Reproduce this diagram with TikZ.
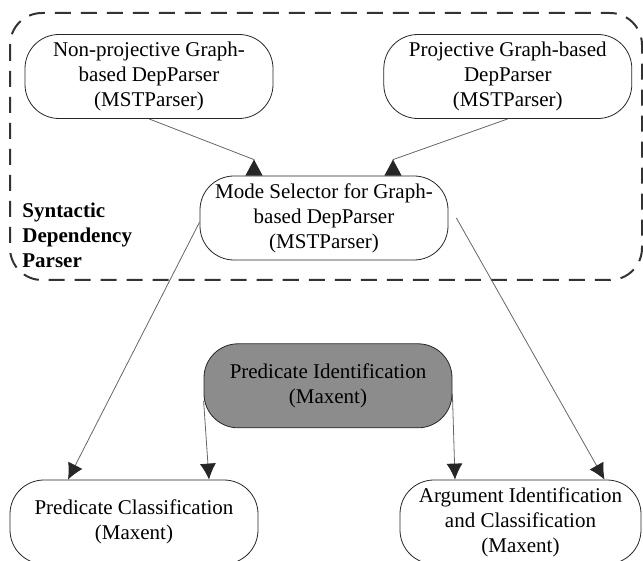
\documentclass[tikz,border=0pt]{standalone}
\usepackage{fontspec}
\setmainfont{Liberation Serif}
\usetikzlibrary{positioning,arrows.meta}

\begin{document}
\begin{tikzpicture}[
    x=0.5pt, y=-0.5pt,
    module/.style={rectangle, draw=black!85, rounded corners=17pt, minimum width=124pt, minimum height=42pt, align=center, inner sep=2pt, font=\fontsize{10.5}{12.5}\selectfont},
    shaded/.style={module, fill=black!45},
    group/.style={draw=black!80, line width=1pt, dash pattern=on 8pt off 5pt, rounded corners=16pt},
    arrow/.style={draw=black!60, -{Latex[length=8pt, width=8pt, color=black!85]}},
    uparrow/.style={draw=black!60, -{Triangle[reversed, length=8pt, width=8.5pt, color=black!85]}}
]
\useasboundingbox (0,0) rectangle (643,561);

% Syntactic dependency parser
\draw[group] (10,13) rectangle (642,280);
\node[module] (nonproj) at (149,76.5) {Non-projective Graph-\\based DepParser\\(MSTParser)};
\node[module, right=55pt of nonproj] (proj) {Projective Graph-based\\DepParser\\(MSTParser)};
\node[module] (mode) at (324,218) {Mode Selector for Graph-\\based DepParser\\(MSTParser)};
\node[anchor=west, align=left, inner sep=0pt, font=\fontsize{10.5}{12.5}\selectfont\bfseries] (synlabel) at (22,235) {Syntactic\\Dependency\\Parser};

% SRL modules
\node[shaded, below=41.5pt of mode, xshift=2pt] (predid) {Predicate Identification\\(Maxent)};
\node[module] (predcls) at (134,522) {Predicate Classification\\(Maxent)};
\node[module, minimum width=120.5pt] (arg) at (520.5,522) {Argument Identification\\and Classification\\(Maxent)};

% Arrows
\draw[uparrow] (nonproj.south) -- ([xshift=-35pt,yshift=8pt]mode.north) -- ([xshift=-35pt]mode.north);
\draw[uparrow] (proj.south) -- ([xshift=34.5pt,yshift=8pt]mode.north) -- ([xshift=34.5pt]mode.north);
\draw[arrow] ([yshift=-2pt]mode.west) -- ([xshift=-33pt]predcls.north);
\draw[arrow] ([xshift=4pt]mode.east) -- ([xshift=42pt]arg.north);
\draw[arrow] ([yshift=-7.5pt]predid.west) -- ([xshift=37.5pt]predcls.north);
\draw[arrow] ([yshift=-4pt]predid.east) -- ([xshift=-32.75pt]arg.north);

\end{tikzpicture}
\end{document}
